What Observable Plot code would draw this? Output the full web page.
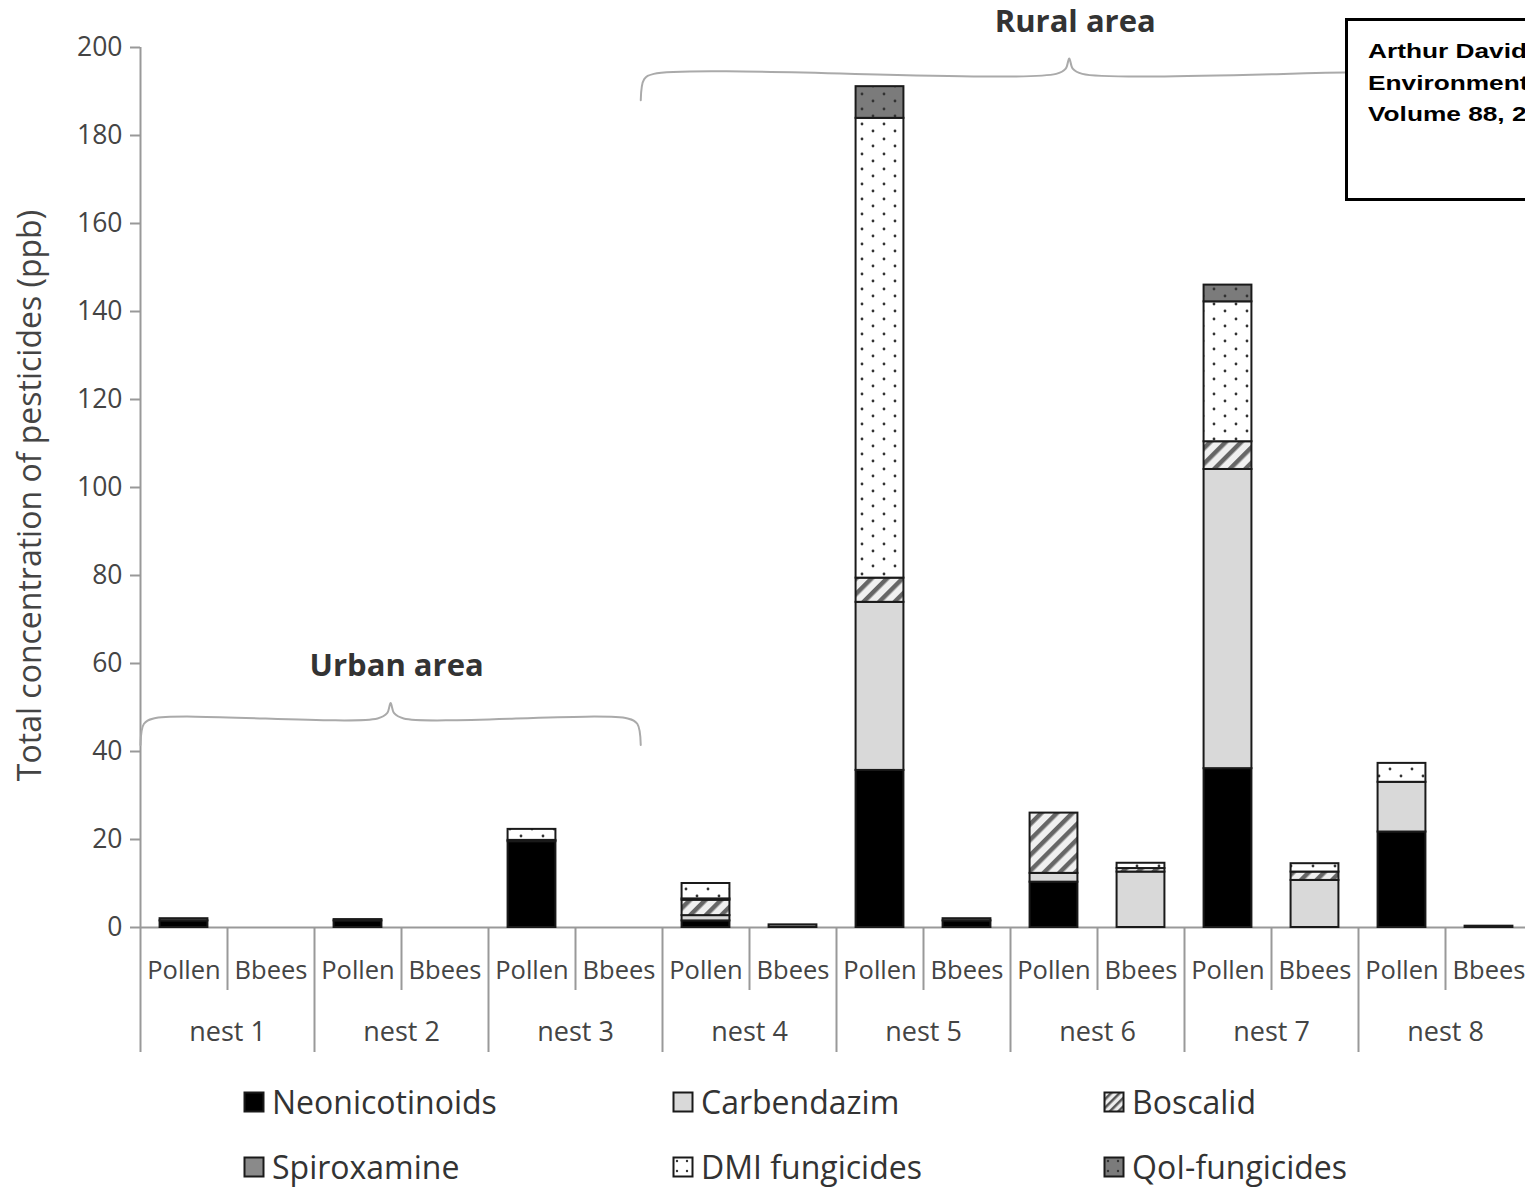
<!DOCTYPE html>
<html>
<head>
<meta charset="utf-8">
<script src="https://cdn.jsdelivr.net/npm/d3@7"></script>
<script src="https://cdn.jsdelivr.net/npm/@observablehq/plot@0.6"></script>
<style>
  html, body { margin: 0; padding: 0; background: #fff; overflow: hidden; width: 1525px; height: 1189px; }
  #wrap { position: relative; width: 1525px; height: 1189px; overflow: hidden; }
  #chart svg { display: block; }
  #legend { position: absolute; left: 243px; top: 1084px; display: grid;
    grid-template-columns: 429px 431px 300px; grid-auto-rows: 36px; row-gap: 29px;
    font-family: "Open Sans", sans-serif; font-size: 32px; line-height: 36px; color: #333; }
  #legend .item { display: flex; align-items: center; gap: 7px; white-space: nowrap; height: 36px; }
  #legend svg { flex: none; }
  #note { position: absolute; left: 1345px; top: 18px; width: 260px; height: 183px;
    border: 3px solid #000; background: #fff; box-sizing: border-box;
    font-family: "Liberation Sans", Arial, sans-serif; font-weight: bold; font-size: 21px;
    line-height: 31.5px; padding: 14px 0 0 20px; color: #000; white-space: nowrap; }
  #note span { display: block; transform: scaleX(1.25); transform-origin: left center; }
</style>
</head>
<body>
<div id="wrap">
  <div id="chart"></div>
  <div id="legend"></div>
  <div id="note"><span>Arthur David et al.,</span><span>Environment International,</span><span>Volume 88, 2016</span></div>
</div>
<script>
// ---------- data ----------
const nests = ["nest 1", "nest 2", "nest 3", "nest 4", "nest 5", "nest 6", "nest 7", "nest 8"];
const samples = ["Pollen", "Bbees"];
const seriesNames = ["Neonicotinoids", "Carbendazim", "Boscalid", "Spiroxamine", "DMI fungicides", "QoI-fungicides"];
// values per (nest, sample): nest1 Pollen, nest1 Bbees, nest2 Pollen, ...
const neonicotinoids = [1.5, 0, 1.5, 0, 19.5, 0, 1.5, 0, 35.7, 1.5, 10.3, 0, 36.1, 0, 21.7, 0];
const carbendazim    = [0, 0, 0, 0, 0, 0, 1.2, 0, 38.2, 0, 2.0, 12.6, 68.0, 10.7, 11.3, 0.3];
const boscalid       = [0, 0, 0, 0, 0, 0, 3.5, 0, 5.5, 0, 13.7, 0.8, 6.3, 1.9, 0, 0];
const spiroxamine    = [0.5, 0, 0.3, 0, 0.3, 0, 0.3, 0.6, 0, 0.5, 0, 0, 0, 0, 0, 0];
const dmi            = [0, 0, 0, 0, 2.5, 0, 3.5, 0, 104.5, 0, 0, 1.2, 31.8, 1.9, 4.3, 0];
const qoi            = [0, 0, 0, 0, 0, 0, 0, 0, 7.2, 0, 0, 0, 3.8, 0, 0, 0];
const yTicks = [0, 20, 40, 60, 80, 100, 120, 140, 160, 180, 200];
const areas = [
  {label: "Urban area", from: 0, to: 5.75, level: 47.5},
  {label: "Rural area", from: 5.75, to: 15.6, level: 194}
];

// ---------- table ----------
const seriesValues = [neonicotinoids, carbendazim, boscalid, spiroxamine, dmi, qoi];
const categories = [];
nests.forEach(n => samples.forEach(s => categories.push({nest: n, sample: s})));
const rows = [];
seriesNames.forEach((name, si) => {
  seriesValues[si].forEach((v, ci) => {
    if (v > 0) rows.push({series: name, idx: ci, value: v});
  });
});

const fills = ["#000000", "#d9d9d9", "url(#hatch)", "#8a8a8a", "url(#dots)", "url(#qoi)"];

// brace paths derived from area spans
function bracePoints(a) {
  const w = a.to - a.from, mid = a.from + w * 0.5;
  const drop = 6, bump = 3.5;
  return [
    {x: a.from, y: a.level - drop, k: a.label},
    {x: a.from + 0.04, y: a.level - 1.2, k: a.label},
    {x: a.from + 0.15, y: a.level, k: a.label},
    {x: mid - 0.15, y: a.level, k: a.label},
    {x: mid - 0.04, y: a.level + 1.2, k: a.label},
    {x: mid, y: a.level + bump, k: a.label},
    {x: mid + 0.04, y: a.level + 1.2, k: a.label},
    {x: mid + 0.15, y: a.level, k: a.label},
    {x: a.to - 0.15, y: a.level, k: a.label},
    {x: a.to - 0.04, y: a.level - 1.2, k: a.label},
    {x: a.to, y: a.level - drop, k: a.label}
  ];
}
const braceData = areas.flatMap(bracePoints);

const boundaries = d3.range(0, categories.length + 1);
const shortB = boundaries.filter(b => b % 2 === 1);
const longB = boundaries.filter(b => b % 2 === 0);

const W = 1525, H = 1068;
const grey = "#999";
const chart = Plot.plot({
  width: W, height: H,
  marginLeft: 140, marginRight: 0, marginTop: 47, marginBottom: H - 927,
  style: {fontFamily: "'Open Sans', sans-serif", background: "transparent"},
  x: {type: "linear", domain: [0, 1385 / 87], axis: null},
  y: {type: "linear", domain: [0, 200], axis: null},
  color: {domain: seriesNames, range: fills},
  marks: [
    // y axis
    Plot.ruleX([0], {stroke: grey, strokeWidth: 2}),
    Plot.ruleY(yTicks, {y: d => d, x1: 0, x2: 0, insetLeft: -10, stroke: grey, strokeWidth: 2}),
    Plot.text(yTicks, {y: d => d, text: d => String(d), frameAnchor: "left", dx: -18, textAnchor: "end", fontSize: 26.5, fill: "#444"}),
    Plot.text(["Total concentration of pesticides (ppb)"], {frameAnchor: "left", dx: -110, dy: 8, rotate: -90, textAnchor: "middle", fontSize: 32, fill: "#444"}),
    // baseline
    Plot.ruleY([0], {stroke: grey, strokeWidth: 2}),
    // category dividers
    Plot.ruleX(shortB, {x: d => d, y1: 0, y2: 0, insetBottom: -63, stroke: grey, strokeWidth: 2}),
    Plot.ruleX(longB, {x: d => d, y1: 0, y2: 0, insetBottom: -125, stroke: grey, strokeWidth: 2}),
    // category labels
    Plot.text(categories, {x: (d, i) => i + 0.5, text: "sample", frameAnchor: "bottom", dy: 51, fontSize: 25.5, fill: "#444"}),
    Plot.text(nests, {x: (d, i) => i * 2 + 1, text: d => d, frameAnchor: "bottom", dy: 113, fontSize: 27, fill: "#444"}),
    // stacked bars
    Plot.rectY(rows, Plot.stackY({
      x1: d => d.idx + 0.225, x2: d => d.idx + 0.775, y: "value", z: "series", fill: "series",
      stroke: "#1a1a1a", strokeWidth: 2
    })),
    // area braces
    Plot.line(braceData, {x: "x", y: "y", z: "k", curve: "catmull-rom", stroke: "#aaa", strokeWidth: 2}),
    Plot.text(areas, {x: d => d.from + (d.to - d.from) * 0.5, y: "level", text: "label", dy: -52, dx: 6, fontSize: 31, fontWeight: "bold", fill: "#333"})
  ]
});

// patterns
const defs = d3.select(chart).insert("defs", ":first-child");
const hatch = defs.append("pattern").attr("id", "hatch").attr("patternUnits", "userSpaceOnUse")
  .attr("width", 11).attr("height", 11).attr("patternTransform", "rotate(45)");
hatch.append("rect").attr("width", 11).attr("height", 11).attr("fill", "#f0f0f0");
hatch.append("rect").attr("width", 4.5).attr("height", 11).attr("fill", "#666");
const dots = defs.append("pattern").attr("id", "dots").attr("patternUnits", "userSpaceOnUse")
  .attr("width", 22).attr("height", 15);
dots.append("rect").attr("width", 22).attr("height", 15).attr("fill", "#fff");
dots.append("circle").attr("cx", 4).attr("cy", 4).attr("r", 1.4).attr("fill", "#333");
dots.append("circle").attr("cx", 15).attr("cy", 11).attr("r", 1.4).attr("fill", "#333");
const q = defs.append("pattern").attr("id", "qoi").attr("patternUnits", "userSpaceOnUse")
  .attr("width", 22).attr("height", 15);
q.append("rect").attr("width", 22).attr("height", 15).attr("fill", "#7b7b7b");
q.append("circle").attr("cx", 4).attr("cy", 4).attr("r", 1.4).attr("fill", "#333");
q.append("circle").attr("cx", 15).attr("cy", 11).attr("r", 1.4).attr("fill", "#333");

document.getElementById("chart").appendChild(chart);

// legend (HTML, below the svg)
const legend = document.getElementById("legend");
const swatchDefs = {
  hatch: '<pattern id="lh" patternUnits="userSpaceOnUse" width="6" height="6" patternTransform="rotate(45)"><rect width="6" height="6" fill="#eee"/><rect width="2.5" height="6" fill="#555"/></pattern>',
  dots: '<pattern id="ld" patternUnits="userSpaceOnUse" width="10" height="10"><rect width="10" height="10" fill="#fff"/><circle cx="5" cy="5" r="1.2" fill="#333"/></pattern>',
  qoi: '<pattern id="lq" patternUnits="userSpaceOnUse" width="10" height="10"><rect width="10" height="10" fill="#7b7b7b"/><circle cx="5" cy="5" r="1.2" fill="#333"/></pattern>'
};
const swatchIds = {hatch: "lh", dots: "ld", qoi: "lq"};
seriesNames.forEach((name, i) => {
  const item = document.createElement("div");
  item.className = "item";
  const f = fills[i];
  let sw;
  if (f.startsWith("url")) {
    const id = f.slice(5, -1);
    sw = `<svg width="22" height="22"><defs>${swatchDefs[id]}</defs><rect x="1.5" y="1.5" width="19" height="19" fill="url(#${swatchIds[id]})" stroke="#1a1a1a" stroke-width="2"/></svg>`;
  } else {
    sw = `<svg width="22" height="22"><rect x="1.5" y="1.5" width="19" height="19" fill="${f}" stroke="#1a1a1a" stroke-width="2"/></svg>`;
  }
  item.innerHTML = sw + `<span>${name}</span>`;
  legend.appendChild(item);
});
</script>
</body>
</html>
